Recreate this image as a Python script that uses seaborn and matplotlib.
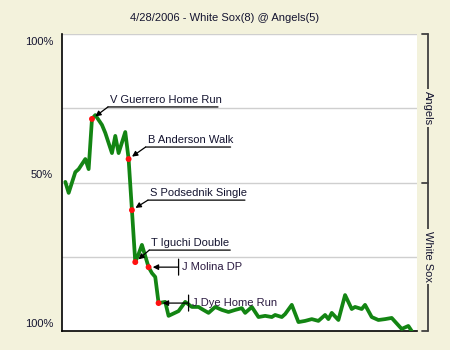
import matplotlib
matplotlib.use("Agg")
import matplotlib.pyplot as plt
import matplotlib.transforms as mtransforms
import seaborn as sns
import pandas as pd

# ---- data ----
title = "4/28/2006 - White Sox(8) @ Angels(5)"
plays = [1, 2, 4, 5, 7, 8, 9, 10, 12, 13, 15, 16, 17, 19, 20, 21, 22, 23, 24, 26,
         27, 28, 29, 31, 32, 35, 37, 39, 41, 42, 44, 46, 48, 50, 52, 54, 55, 57, 59, 61,
         63, 64, 66, 67, 69, 71, 73, 75, 77, 79, 80, 81, 83, 85, 87, 88, 90, 91, 93, 95,
         97, 99, 102, 104, 105]
angels_wp = [0.502, 0.465, 0.535, 0.545, 0.579, 0.545, 0.714, 0.727, 0.694, 0.667,
             0.599, 0.657, 0.599, 0.670, 0.579, 0.407, 0.232, 0.259, 0.290, 0.215,
             0.195, 0.182, 0.094, 0.098, 0.051, 0.067, 0.098, 0.081, 0.081, 0.074,
             0.061, 0.081, 0.071, 0.064, 0.071, 0.077, 0.061, 0.081, 0.047, 0.051,
             0.047, 0.054, 0.047, 0.057, 0.088, 0.030, 0.034, 0.040, 0.034, 0.054,
             0.040, 0.061, 0.037, 0.121, 0.074, 0.081, 0.074, 0.088, 0.047, 0.037,
             0.040, 0.044, 0.007, 0.017, 0.000]
event_plays = [9, 20, 21, 22, 26, 29]
event_labels = ["V Guerrero Home Run", "B Anderson Walk", "S Podsednik Single",
                "T Iguchi Double", "J Molina DP", "J Dye Home Run"]
ytick_vals = [0.0, 0.5, 1.0]
ytick_labels = ["100%", "50%", "100%"]
team_labels = ["Angels", "White Sox"]

BG = "#F3F2DC"
GREEN = "#138513"
TXT = "#141430"

sns.set_style("white")
plt.rcParams["font.family"] = ["Liberation Sans", "DejaVu Sans"]

fig = plt.figure(figsize=(4.5, 3.5), dpi=100, facecolor=BG)
ax = fig.add_axes([62 / 450, 19 / 350, 355 / 450, 297 / 350])
ax.set_facecolor("white")

df = pd.DataFrame({"play": plays, "wp": angels_wp})
for g in [0.25, 0.5, 0.75, 1.0]:
    ax.axhline(g, color="#cfcfcf", lw=1, zorder=0)

sns.lineplot(data=df, x="play", y="wp", color=GREEN, linewidth=2.7, ax=ax, zorder=3)
ev = df[df["play"].isin(event_plays)]
sns.scatterplot(data=ev, x="play", y="wp", color="#ff1010", s=18, edgecolor="none",
                ax=ax, zorder=4)

ax.set_xlim(0, 106.6)
ax.set_ylim(0, 1)
ax.set_xlabel("")
ax.set_ylabel("")
ax.set_xticks([])
ax.set_yticks([])

# y labels placed next to their levels
for v, lab in zip(ytick_vals, ytick_labels):
    dy = -8 if v == 1.0 else 7
    tr = mtransforms.offset_copy(ax.get_yaxis_transform(), fig=fig, x=-9, y=dy,
                                 units="dots")
    ax.text(0, v, lab, transform=tr, ha="right", va="center", fontsize=8, color=TXT)

for s in ["top", "right"]:
    ax.spines[s].set_visible(False)
ax.spines["left"].set_color("black")
ax.spines["bottom"].set_color("black")
ax.spines["left"].set_linewidth(1.2)
ax.spines["bottom"].set_linewidth(1.2)

fig.text(0.5, 1 - 18 / 350, title, ha="center", va="center", fontsize=8, color=TXT)

# annotation styles: (dx, dy, underline width) in pixels; diagonal or flagged
styles = [("diag", 16, 12, 110), ("diag", 17, 12, 85), ("diag", 16, 10, 97),
          ("diag", 14, 12, 81), ("flag", 30, 0, 0), ("flag", 30, 0, 0)]

def off(dx, dy):
    return mtransforms.offset_copy(ax.transData, fig=fig, x=dx, y=dy, units="dots")

for p, lab, (kind, dx, dy, w) in zip(event_plays, event_labels, styles):
    y = df.loc[df["play"] == p, "wp"].iloc[0]
    ax.annotate("", xy=(p, y), xytext=(dx, dy), textcoords="offset pixels",
                arrowprops=dict(arrowstyle="-|>", color="black", lw=0.9,
                                shrinkA=0, shrinkB=3, mutation_scale=8), zorder=5)
    if kind == "diag":
        ax.annotate("", xy=(p, y), xycoords=off(dx + w, dy), xytext=(p, y),
                    textcoords=off(dx, dy),
                    arrowprops=dict(arrowstyle="-", color="black", lw=0.9,
                                    shrinkA=0, shrinkB=0), zorder=5)
        ax.annotate(lab, xy=(p, y), xytext=(dx + 2, dy + 7), textcoords="offset pixels",
                    ha="left", va="center", fontsize=8, color=TXT, zorder=6)
    else:
        ax.annotate("", xy=(p, y), xycoords=off(dx, dy + 8), xytext=(p, y),
                    textcoords=off(dx, dy - 8),
                    arrowprops=dict(arrowstyle="-", color="black", lw=0.9,
                                    shrinkA=0, shrinkB=0), zorder=5)
        ax.annotate(lab, xy=(p, y), xytext=(dx + 3, dy), textcoords="offset pixels",
                    ha="left", va="center", fontsize=8, color="#2a1a40", zorder=6)

# right-hand team bracket
bx = 1 + 11 / 355
tx = 1 + 5 / 355
ax.plot([bx, bx], [0, 1], transform=ax.transAxes, color="#404040", lw=1.3,
        clip_on=False)
for yy in [0, 0.5, 1]:
    ax.plot([tx, bx], [yy, yy], transform=ax.transAxes, color="#404040", lw=1.3,
            clip_on=False)
for yy, lab in zip([0.75, 0.25], team_labels):
    ax.text(bx, yy, lab, transform=ax.transAxes, rotation=270, ha="center",
            va="center", fontsize=8, color=TXT,
            bbox=dict(facecolor=BG, edgecolor="none", pad=1.5))

fig.savefig("out.png", dpi=100, facecolor=BG)
